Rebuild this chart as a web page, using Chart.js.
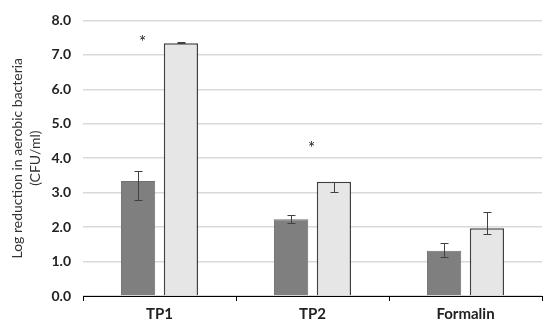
<!DOCTYPE html>
<html>
<head>
<meta charset="utf-8">
<script src="https://cdn.jsdelivr.net/npm/chart.js@4"></script>
<style>
  html, body { margin: 0; padding: 0; background: #fff; }
  #wrap { width: 550px; height: 330px; }
</style>
</head>
<body>
<div id="wrap"><canvas id="reductionChart"></canvas></div>
<script>
const categories = ['TP1', 'TP2', 'Formalin'];
const darkValues = [3.34, 2.23, 1.31];
const darkLow = [2.79, 2.11, 1.12];
const darkHigh = [3.63, 2.35, 1.54];
const lightValues = [7.34, 3.32, 1.97];
const lightLow = [7.33, 3.03, 1.80];
const lightHigh = [7.36, 3.32, 2.44];
const starValues = [7.48, 4.41, null];
const yTicks = [0, 1, 2, 3, 4, 5, 6, 7, 8];

// error bars, drawn from the dataset's own scale
const errorBars = {
    id: 'errorBars',
    afterDatasetsDraw(chart) {
        const c = chart.ctx;
        const y = chart.scales.y;
        const ranges = [[darkLow, darkHigh], [lightLow, lightHigh]];
        c.save();
        c.strokeStyle = '#404040';
        c.lineWidth = 1;
        ranges.forEach((r, di) => {
            chart.getDatasetMeta(di).data.forEach((bar, i) => {
                const x = Math.round(bar.x) + 0.5;
                const y1 = Math.round(y.getPixelForValue(r[0][i])) + 0.5;
                const y2 = Math.round(y.getPixelForValue(r[1][i])) + 0.5;
                c.beginPath();
                c.moveTo(x, y1); c.lineTo(x, y2);
                c.moveTo(x - 4, y1); c.lineTo(x + 4, y1);
                c.moveTo(x - 4, y2); c.lineTo(x + 4, y2);
                c.stroke();
            });
        });
        c.restore();
    }
};

// significance asterisks
const starShift = [-17, -1, 0];
const stars = {
    id: 'stars',
    afterDatasetsDraw(chart) {
        const c = chart.ctx;
        c.save();
        c.fillStyle = '#222';
        c.font = '17px Lato';
        c.textAlign = 'center';
        c.textBaseline = 'middle';
        starValues.forEach((v, i) => {
            if (v == null) return;
            const x = chart.scales.x.getPixelForValue(i) + starShift[i];
            c.fillText('*', x, chart.scales.y.getPixelForValue(v) + 4);
        });
        c.restore();
    }
};

const ctx = document.getElementById('reductionChart').getContext('2d');
new Chart(ctx, {
    type: 'bar',
    data: {
        labels: categories,
        datasets: [{
            label: 'dark',
            data: darkValues,
            backgroundColor: '#7f7f7f',
            borderColor: '#707070',
            borderWidth: 1,
            barPercentage: 0.8,
            categoryPercentage: 0.56
        }, {
            label: 'light',
            data: lightValues,
            backgroundColor: '#e6e6e6',
            borderColor: '#404040',
            borderWidth: 1.5,
            barPercentage: 0.8,
            categoryPercentage: 0.56
        }]
    },
    options: {
        responsive: true,
        maintainAspectRatio: false,
        animation: false,
        layout: { padding: { top: 11, right: 8, left: 0, bottom: 0 } },
        plugins: {
            legend: { display: false },
            tooltip: { enabled: false }
        },
        scales: {
            x: {
                afterFit: s => { s.height = 34; },
                border: { color: '#000', width: 1 },
                grid: { offset: true, drawOnChartArea: false, tickLength: 5, color: '#000' },
                ticks: { color: '#222', font: { family: 'Lato', size: 15, weight: 'bold' }, padding: 4 }
            },
            y: {
                min: 0,
                max: 8,
                afterFit: s => { s.width = 83; },
                afterBuildTicks: s => { s.ticks = yTicks.map(v => ({ value: v })); },
                border: { display: false },
                grid: { color: '#d9d9d9', lineWidth: 1.5, drawTicks: false },
                ticks: {
                    color: '#222',
                    padding: 12,
                    font: { family: 'Lato', size: 14, weight: 'bold' },
                    callback: v => v.toFixed(1)
                },
                title: {
                    display: true,
                    text: ['Log reduction in aerobic bacteria', '(CFU/ml)'],
                    color: '#333',
                    font: { family: 'Lato', size: 14, lineHeight: 1.25 },
                    padding: { top: 9, bottom: 0 }
                }
            }
        }
    },
    plugins: [errorBars, stars]
});
</script>
</body>
</html>
